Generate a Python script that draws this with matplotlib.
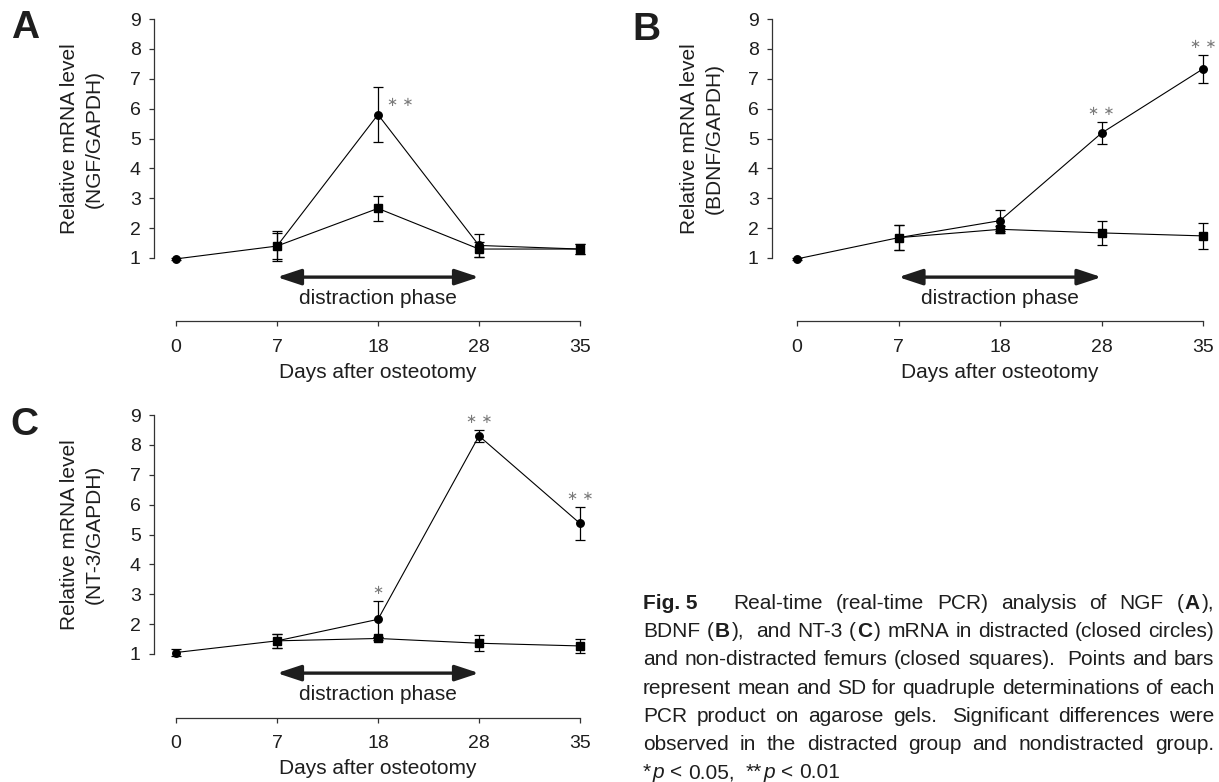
import matplotlib
matplotlib.use('Agg')
import matplotlib.pyplot as plt
from matplotlib.transforms import blended_transform_factory

plt.rcParams['font.family'] = ['Liberation Sans', 'DejaVu Sans']

W, H = 1219, 782
INK = '#1e1e1e'

days = ['0', '7', '18', '28', '35']

# A: NGF, distracted (circles) and non-distracted (squares, from day 7)
ngf_dist = [0.97, 1.40, 5.80, 1.42, 1.30]
ngf_dist_sd = [0.03, 0.50, 0.92, 0.40, 0.18]
ngf_non = [1.40, 2.66, 1.30, 1.30]
ngf_non_sd = [0.45, 0.42, 0.25, 0.18]

# B: BDNF
bdnf_dist = [0.97, 1.68, 2.25, 5.18, 7.33]
bdnf_dist_sd = [0.03, 0.42, 0.36, 0.36, 0.46]
bdnf_non = [1.68, 1.96, 1.84, 1.74]
bdnf_non_sd = [0.42, 0.12, 0.40, 0.44]

# C: NT-3
nt3_dist = [1.05, 1.44, 2.16, 8.30, 5.37]
nt3_dist_sd = [0.13, 0.24, 0.60, 0.20, 0.55]
nt3_non = [1.44, 1.52, 1.36, 1.27]
nt3_non_sd = [0.24, 0.06, 0.27, 0.23]

# significance marks: (day index, mark, where)
ngf_marks = [(2, '∗ ∗', 'right')]
bdnf_marks = [(3, '∗ ∗', 'top'), (4, '∗ ∗', 'top')]
nt3_marks = [(2, '∗', 'top'), (3, '∗ ∗', 'top'), (4, '∗ ∗', 'top')]

fig = plt.figure(figsize=(W / 100, H / 100), dpi=100)


def panel(left, right, top, bottom, x0, x4, y1, y9):
    ax = fig.add_axes([left / W, 1 - bottom / H, (right - left) / W, (bottom - top) / H])
    ux = (x4 - x0) / 4
    uy = (y1 - y9) / 8
    ax.set_xlim(-(x0 - left) / ux, 4 + (right - x4) / ux)
    ax.set_ylim(1 - (bottom - y1) / uy, 9 + (y9 - top) / uy)
    return ax


def draw(ax, dist, dist_sd, non, non_sd, marks, ylabel, letter, letter_xy, ylab_x, xlab_y):
    ax.errorbar(range(5), dist, yerr=dist_sd, fmt='-o', color='k', ms=5.4,
                lw=0.8, elinewidth=0.9, capsize=3.5, capthick=0.9, zorder=3)
    ax.errorbar(range(1, 5), non, yerr=non_sd, fmt='-s', color='k', ms=5.4,
                lw=0.8, elinewidth=0.9, capsize=3.5, capthick=0.9, zorder=3)

    for i, m, where in marks:
        if where == 'right':
            x, y = i + 0.22, dist[i] + 0.4
        else:
            x, y = i, dist[i] + dist_sd[i] + 0.36
        ax.text(x, y, m, ha='center', va='center', fontsize=9.5,
                color='#7a7a7a', family='DejaVu Sans', clip_on=False)

    # distraction phase arrow
    ax.annotate('', xy=(3, 0.36), xytext=(1, 0.36),
                arrowprops=dict(arrowstyle='<|-|>,head_length=1.45,head_width=0.48',
                                mutation_scale=10, lw=2.4, color=INK,
                                shrinkA=0, shrinkB=0))
    ax.text(2, -0.37, 'distraction phase', ha='center', va='center',
            fontsize=15, color=INK)

    for s in ['top', 'right']:
        ax.spines[s].set_visible(False)
    for s in ['left', 'bottom']:
        ax.spines[s].set_color('#333333')
        ax.spines[s].set_linewidth(0.9)
    ax.spines['left'].set_bounds(1, 9)
    ax.spines['bottom'].set_bounds(0, 4)

    ax.set_yticks(range(1, 10))
    ax.set_xticks(range(5))
    ax.set_xticklabels(days)
    ax.tick_params(axis='both', direction='out', length=3.6, width=0.9,
                   color='#333333', labelsize=14, labelcolor=INK)
    ax.tick_params(axis='y', pad=6)
    ax.tick_params(axis='x', pad=9)

    ax.set_ylabel(ylabel, fontsize=15, color=INK, linespacing=1.4)
    ax.yaxis.label.set_va('center')
    ax.yaxis.set_label_coords(ylab_x / W, 5,
                              transform=blended_transform_factory(fig.transFigure, ax.transData))
    ax.set_xlabel('Days after osteotomy', fontsize=15, color=INK)
    ax.xaxis.label.set_va('center')
    ax.xaxis.set_label_coords(2, 1 - xlab_y / H,
                              transform=blended_transform_factory(ax.transData, fig.transFigure))

    fig.text(letter_xy[0] / W, 1 - letter_xy[1] / H, letter, fontsize=28,
             fontweight='bold', ha='center', va='center', color=INK)


axA = panel(154, 600, 19, 321, 176, 580, 258, 19)
draw(axA, ngf_dist, ngf_dist_sd, ngf_non, ngf_non_sd, ngf_marks,
     'Relative mRNA level\n(NGF/GAPDH)', 'A', (25, 28), 82, 372)

axB = panel(772, 1215, 19, 321, 797, 1203, 258, 19)
draw(axB, bdnf_dist, bdnf_dist_sd, bdnf_non, bdnf_non_sd, bdnf_marks,
     'Relative mRNA level\n(BDNF/GAPDH)', 'B', (646, 30), 702, 372)

axC = panel(154, 600, 415, 718, 176, 580, 654, 415)
draw(axC, nt3_dist, nt3_dist_sd, nt3_non, nt3_non_sd, nt3_marks,
     'Relative mRNA level\n(NT-3/GAPDH)', 'C', (24, 425), 82, 768)

# caption, justified; '#' toggles bold, '_' toggles italic, '+' = extra space
caption = [
    ['#Fig. 5#', '++++Real-time', '(real-time', 'PCR)', 'analysis', 'of', 'NGF', '(#A#),'],
    ['BDNF', '(#B#),', '+and', 'NT-3', '(#C#)', 'mRNA', 'in', 'distracted', '(closed', 'circles)'],
    ['and', 'non-distracted', 'femurs', '(closed', 'squares).', '+Points', 'and', 'bars'],
    ['represent', 'mean', 'and', 'SD', 'for', 'quadruple', 'determinations', 'of', 'each'],
    ['PCR', 'product', 'on', 'agarose', 'gels.', '+Significant', 'differences', 'were'],
    ['observed', 'in', 'the', 'distracted', 'group', 'and', 'nondistracted', 'group.'],
    ['*_p_', '<', '0.05,', '+**_p_', '<', '0.01'],
]
cap_size = 15
cap_left, cap_right = 643, 1214
cap_base, cap_pitch = 609, 28.2
run_gap = 1.5

renderer = fig.canvas.get_renderer()


def text_width(s, weight='normal', style='normal'):
    t = fig.text(0, 0, s, fontsize=cap_size, fontweight=weight, fontstyle=style)
    w = t.get_window_extent(renderer).width
    t.remove()
    return w


space_w = text_width('a a') - text_width('aa')


def split_runs(word):
    extra = 0
    while word.startswith('+'):
        extra += space_w
        word = word[1:]
    runs, cur, bold, ital = [], '', False, False
    for ch in word:
        if ch in '#_':
            if cur:
                runs.append((cur, bold, ital))
            cur = ''
            if ch == '#':
                bold = not bold
            else:
                ital = not ital
        else:
            cur += ch
    if cur:
        runs.append((cur, bold, ital))
    return extra, runs


for k, line in enumerate(caption):
    y = 1 - (cap_base + k * cap_pitch) / H
    words = []
    for w in line:
        extra, runs = split_runs(w)
        widths = [text_width(s, 'bold' if b else 'normal', 'italic' if it else 'normal')
                  for s, b, it in runs]
        words.append((extra, runs, widths))
    total = sum(sum(ws) + run_gap * (len(ws) - 1) + ex for ex, r, ws in words)
    if k < len(caption) - 1:
        gap = (cap_right - cap_left - total) / (len(words) - 1)
    else:
        gap = space_w
    x = cap_left
    for j, (extra, runs, widths) in enumerate(words):
        if j > 0:
            x += gap + extra
        for n, ((s, b, it), wd) in enumerate(zip(runs, widths)):
            if n > 0:
                x += run_gap
            fig.text(x / W, y, s, fontsize=cap_size, color=INK, va='baseline', ha='left',
                     fontweight='bold' if b else 'normal',
                     fontstyle='italic' if it else 'normal')
            x += wd

fig.savefig('out.png', dpi=100)
